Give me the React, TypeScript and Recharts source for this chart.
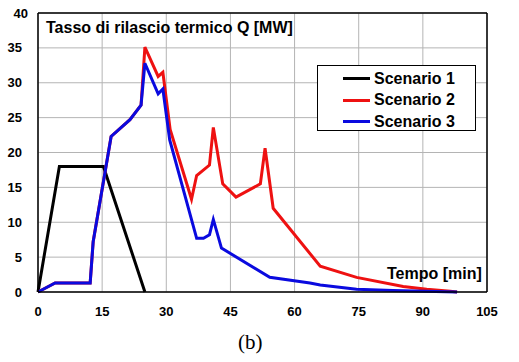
import { CartesianGrid, Line, LineChart, ReferenceLine, XAxis, YAxis } from 'recharts';

type Pt = { t: number; q: number };

// tempo [min], Q [MW]
const scenario1: Pt[] = [
  { t: 0, q: 0 },
  { t: 5, q: 18 },
  { t: 15.3, q: 18 },
  { t: 25, q: 0 }
];

const scenario2: Pt[] = [
  { t: 0, q: 0 },
  { t: 4, q: 1.3 },
  { t: 12.2, q: 1.3 },
  { t: 12.9, q: 7.2 },
  { t: 17.1, q: 22.3 },
  { t: 21.5, q: 24.7 },
  { t: 24.1, q: 26.8 },
  { t: 25, q: 35.1 },
  { t: 28.1, q: 30.9 },
  { t: 29.2, q: 31.5 },
  { t: 30.9, q: 23.3 },
  { t: 35.9, q: 13.3 },
  { t: 37.1, q: 16.7 },
  { t: 40.1, q: 18.2 },
  { t: 41, q: 23.6 },
  { t: 43.2, q: 15.5 },
  { t: 46.3, q: 13.6 },
  { t: 52, q: 15.5 },
  { t: 53.1, q: 20.6 },
  { t: 55, q: 12 },
  { t: 66, q: 3.7 },
  { t: 74.5, q: 2.1 },
  { t: 85.4, q: 0.8 },
  { t: 90.9, q: 0.4 },
  { t: 96.4, q: 0.1 },
  { t: 98, q: 0 }
];

const scenario3: Pt[] = [
  { t: 0, q: 0 },
  { t: 4, q: 1.3 },
  { t: 12.2, q: 1.3 },
  { t: 12.9, q: 7.2 },
  { t: 17.1, q: 22.3 },
  { t: 21.5, q: 24.7 },
  { t: 24.1, q: 26.8 },
  { t: 25, q: 32.8 },
  { t: 28.1, q: 28.4 },
  { t: 29.2, q: 29.1 },
  { t: 30.8, q: 21.8 },
  { t: 37.1, q: 7.7 },
  { t: 38.7, q: 7.7 },
  { t: 40.1, q: 8.2 },
  { t: 41, q: 10.4 },
  { t: 42.9, q: 6.3 },
  { t: 54.2, q: 2.1 },
  { t: 63.6, q: 1.3 },
  { t: 66, q: 1 },
  { t: 74.5, q: 0.4 },
  { t: 83, q: 0.2 },
  { t: 98, q: 0 }
];

const xTicks = [0, 15, 30, 45, 60, 75, 90, 105];
const yTicks = [0, 5, 10, 15, 20, 25, 30, 35, 40];
const yMax = 40;
const xMax = 105;

const series = [
  { name: 'Scenario 1', data: scenario1, color: '#000000' },
  { name: 'Scenario 2', data: scenario2, color: '#ee1111' },
  { name: 'Scenario 3', data: scenario3, color: '#0a0adf' }
];

const boldFont = 'Arial, "Liberation Sans", sans-serif';
const tickStyle = { fontSize: 13, fontWeight: 700, fill: '#000', fontFamily: boldFont };
const borderLine = { stroke: '#000', strokeWidth: 1.5 };

function LegendBox() {
  return (
    <div
      style={{
        position: 'absolute',
        left: 317,
        top: 65,
        border: '1px solid #000',
        background: '#fff',
        width: 159,
        height: 66,
        boxSizing: 'border-box',
        paddingTop: 2,
        fontFamily: boldFont,
        fontWeight: 700,
        fontSize: 16
      }}
    >
      {series.map((s) => (
        <div key={s.name} style={{ display: 'flex', alignItems: 'center', height: 21.5 }}>
          <div style={{ width: 27, height: 3, background: s.color, marginLeft: 25, marginRight: 4 }} />
          <span>{s.name}</span>
        </div>
      ))}
    </div>
  );
}

export default function App() {
  return (
    <div style={{ position: 'absolute', left: 0, top: 0, width: 519, height: 362, background: '#fff' }}>
      <LineChart width={519} height={362} margin={{ top: 13, right: 32, bottom: 0, left: 0 }}>
        <CartesianGrid stroke="#b4b4b4" strokeWidth={1} />
        <XAxis
          type="number"
          dataKey="t"
          domain={[0, xMax]}
          ticks={xTicks}
          interval={0}
          tickLine={false}
          tickMargin={9}
          axisLine={borderLine}
          tick={tickStyle}
          height={70}
        />
        <YAxis
          type="number"
          domain={[0, yMax]}
          ticks={yTicks.filter((v) => v < yMax)}
          interval={0}
          tickLine={false}
          tickMargin={10}
          axisLine={borderLine}
          tick={tickStyle}
          width={38}
        />
        {/* top edge of the frame; it also carries the top tick label */}
        <ReferenceLine
          y={yMax}
          stroke="#000"
          strokeWidth={1.5}
          label={{ value: String(yMax), position: 'left', offset: 10, ...tickStyle }}
        />
        <ReferenceLine x={xMax} stroke="#000" strokeWidth={1.5} />
        {series.map((s) => (
          <Line
            key={s.name}
            data={s.data}
            dataKey="q"
            name={s.name}
            type="linear"
            stroke={s.color}
            strokeWidth={3}
            dot={false}
            isAnimationActive={false}
          />
        ))}
      </LineChart>
      <LegendBox />
      <div
        style={{
          position: 'absolute',
          left: 46,
          top: 19,
          fontFamily: boldFont,
          fontWeight: 700,
          fontSize: 16,
          whiteSpace: 'nowrap'
        }}
      >
        Tasso di rilascio termico Q [MW]
      </div>
      <div
        style={{
          position: 'absolute',
          left: 387,
          top: 265,
          fontFamily: boldFont,
          fontWeight: 700,
          fontSize: 16,
          whiteSpace: 'nowrap'
        }}
      >
        Tempo [min]
      </div>
      <div
        style={{
          position: 'absolute',
          left: 238,
          top: 330,
          fontFamily: '"Liberation Serif", "Times New Roman", serif',
          fontSize: 21,
          whiteSpace: 'nowrap'
        }}
      >
        (b)
      </div>
    </div>
  );
}
